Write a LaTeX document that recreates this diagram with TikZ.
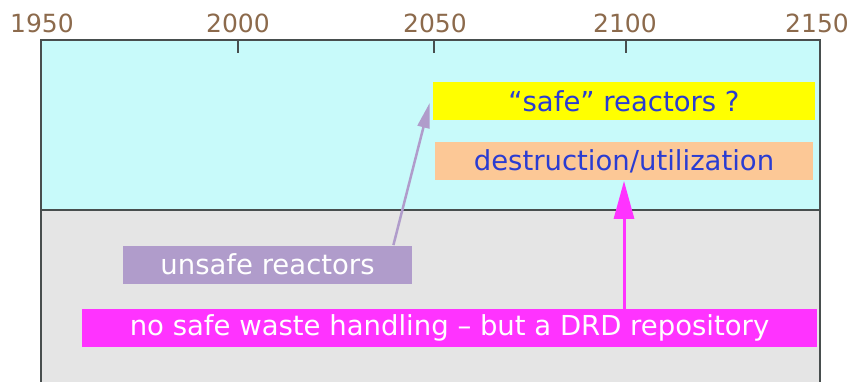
\documentclass[tikz,border=0pt]{standalone}
\usepackage{fontspec}
\setsansfont{DejaVu Sans}
\usetikzlibrary{arrows.meta}
\definecolor{skycyan}{RGB}{200,250,250}
\definecolor{paleground}{RGB}{229,229,229}
\definecolor{framegray}{RGB}{72,78,78}
\definecolor{yearbrown}{RGB}{140,106,76}
\definecolor{lilac}{RGB}{176,156,203}
\definecolor{hotpink}{RGB}{255,51,255}
\definecolor{peach}{RGB}{252,200,150}
\definecolor{inkblue}{RGB}{42,60,210}
\definecolor{lemon}{RGB}{255,255,0}

\begin{document}
\begin{tikzpicture}[x=1pt,y=-1pt,>=stealth,thick,
  box/.style={minimum height=38pt,inner sep=0pt,font=\sffamily\fontsize{27.5}{27.5}\selectfont},
  year/.style={text=yearbrown,font=\sffamily\fontsize{25}{25}\selectfont}]
  \useasboundingbox (0,0) rectangle (853,382);
  % the two periods
  \fill[skycyan] (41,40) rectangle (820,210);
  \fill[paleground] (41,210) rectangle (820,382);
  \draw[framegray,line width=2.5pt] (41,382)--(41,40)--(820,40)--(820,382);
  \draw[framegray,line width=2.5pt] (41,210)--(820,210);
  % time axis
  \foreach \yr/\x in {1950/42,2000/238,2050/435,2100/625,2150/817}
  {
    \node[year] (y\yr) at (\x,23) {\yr};
  }
  \foreach \x in {238,434,626}
  {
    \draw[framegray,line width=2pt] (\x,40)--(\x,53);
  }
  % boxes
  \node[box,fill=lemon,text=inkblue,minimum width=382pt] (safe) at (624,101) {“safe” reactors ?};
  \node[box,fill=peach,text=inkblue,minimum width=378pt] (dest) at (624,161.5) {destruction/utilization};
  \node[box,fill=lilac,text=white,minimum width=289pt] (unsafe) at (267.5,264.5) {unsafe reactors};
  \node[box,fill=hotpink,text=white,minimum width=735pt] (waste) at (449.5,328) {no safe waste handling – but a DRD repository};
  % arrows
  \draw[lilac,line width=2.5pt,-{Triangle[length=25pt,width=12pt]}] ([xshift=-19pt]unsafe.north east) -- ([xshift=-3pt,yshift=-2pt]safe.west);
  \draw[hotpink,line width=3pt,-{Triangle[length=38pt,width=20pt]}] (waste.north -| dest.south) -- (dest.south);
\end{tikzpicture}
\end{document}
